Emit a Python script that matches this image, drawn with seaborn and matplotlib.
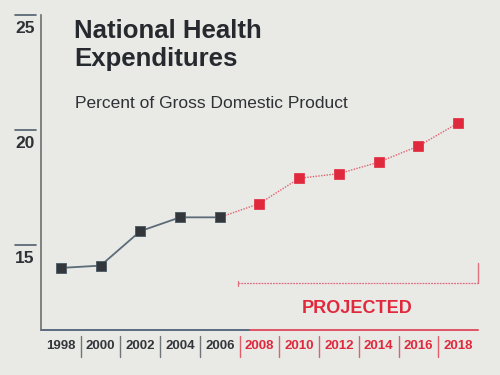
import numpy as np
import pandas as pd
import matplotlib
matplotlib.use("Agg")
import matplotlib.pyplot as plt
import matplotlib.transforms as mtransforms
import seaborn as sns

# data (percent of GDP)
years = [1998, 2000, 2002, 2004, 2006, 2008, 2010, 2012, 2014, 2016, 2018]
pct_gdp = [14.0, 14.1, 15.6, 16.2, 16.2, 16.8, 17.9, 18.1, 18.6, 19.3, 20.3]
last_actual = 2006
y_ticks = [15, 20, 25]

df = pd.DataFrame({"year": years, "pct": pct_gdp})
hist = df[df.year <= last_actual]
proj = df[df.year >= last_actual]

sns.set_style("white")
plt.rcParams['font.family'] = ['Liberation Sans Narrow', 'Liberation Sans', 'DejaVu Sans']

bg = "#e9e9e6"
red = "#e0293d"
dark = "#33363a"
grey = "#5b6b78"

fig = plt.figure(figsize=(5, 3.75), dpi=100, facecolor=bg)
ax = fig.add_axes([0.082, 0.12, 0.874, 0.84])
ax.set_facecolor(bg)

# lines
sns.lineplot(data=hist, x="year", y="pct", ax=ax, color=grey, lw=1.3)
sns.lineplot(data=proj, x="year", y="pct", ax=ax, color="#e2606c", lw=1.0, ls=(0, (1, 1)))
# markers
sns.scatterplot(data=hist, x="year", y="pct", ax=ax, marker="s", s=55, color=dark,
                edgecolor="#4a5a66", linewidth=0.6, zorder=5)
sns.scatterplot(data=df[df.year > last_actual], x="year", y="pct", ax=ax, marker="s", s=55,
                color=red, edgecolor=red, linewidth=0.5, zorder=5)

ax.set_xlim(1997, 2019)
ax.set_ylim(11.3, 25)
ax.set_xlabel("")
ax.set_ylabel("")
ax.set_xticks([])
ax.set_yticks([])
for s in ["top", "right", "bottom"]:
    ax.spines[s].set_visible(False)
ax.spines["left"].set_color("#6e6e6e")
ax.spines["left"].set_linewidth(1.2)

tr_y = mtransforms.blended_transform_factory(ax.transAxes, ax.transData)
tr_x = mtransforms.blended_transform_factory(ax.transData, ax.transAxes)

# y ticks: short bar with number below
for v in y_ticks:
    ax.plot([-0.060, -0.012], [v, v], transform=tr_y, color="#50606e", lw=1.2, clip_on=False)
    ax.text(-0.037, v - 0.25, str(v), transform=tr_y, ha="center", va="top",
            fontsize=12.5, fontweight="bold", color="#2e3236")

# baseline: grey for actual, red for projected
split = 2007.5
ax.plot([1997, split], [0, 0], transform=tr_x, color="#5c6a80", lw=1.4, clip_on=False)
ax.plot([split, 2019], [0, 0], transform=tr_x, color="#e05366", lw=1.4, clip_on=False)

# x tick labels with separators
for yr in years:
    c = dark if yr <= last_actual else red
    ax.text(yr, -0.052, str(yr), transform=tr_x, ha="center", va="center",
            fontsize=9.5, fontweight="bold", color=c)
for yr in range(1999, 2018, 2):
    c = "#70757a" if yr < last_actual else "#e0606e"
    ax.plot([yr, yr], [-0.019, -0.085], transform=tr_x, color=c, lw=1.0, clip_on=False)

# projected bracket
ax.plot([2006.9, 2019], [13.35, 13.35], color="#e07080", lw=0.9, ls=(0, (1.5, 0.8)), clip_on=False)
ax.plot([2019, 2019], [13.35, 14.2], color="#e07080", lw=1.0, clip_on=False)
ax.plot([2006.9, 2006.9], [13.2, 13.45], color="#e07080", lw=0.9, clip_on=False)
ax.text(2012.9, 12.25, "PROJECTED", ha="center", va="center", fontsize=13,
        fontweight="bold", color=red)

# titles
fig.text(0.148, 0.950, "National Health\nExpenditures", ha="left", va="top",
         fontsize=18.5, fontweight="bold", color="#26292e", linespacing=1.2)
fig.text(0.150, 0.725, "Percent of Gross Domestic Product", ha="left", va="center",
         fontsize=12.5, color="#2e3135")

fig.savefig("out.png", dpi=100, facecolor=bg)
